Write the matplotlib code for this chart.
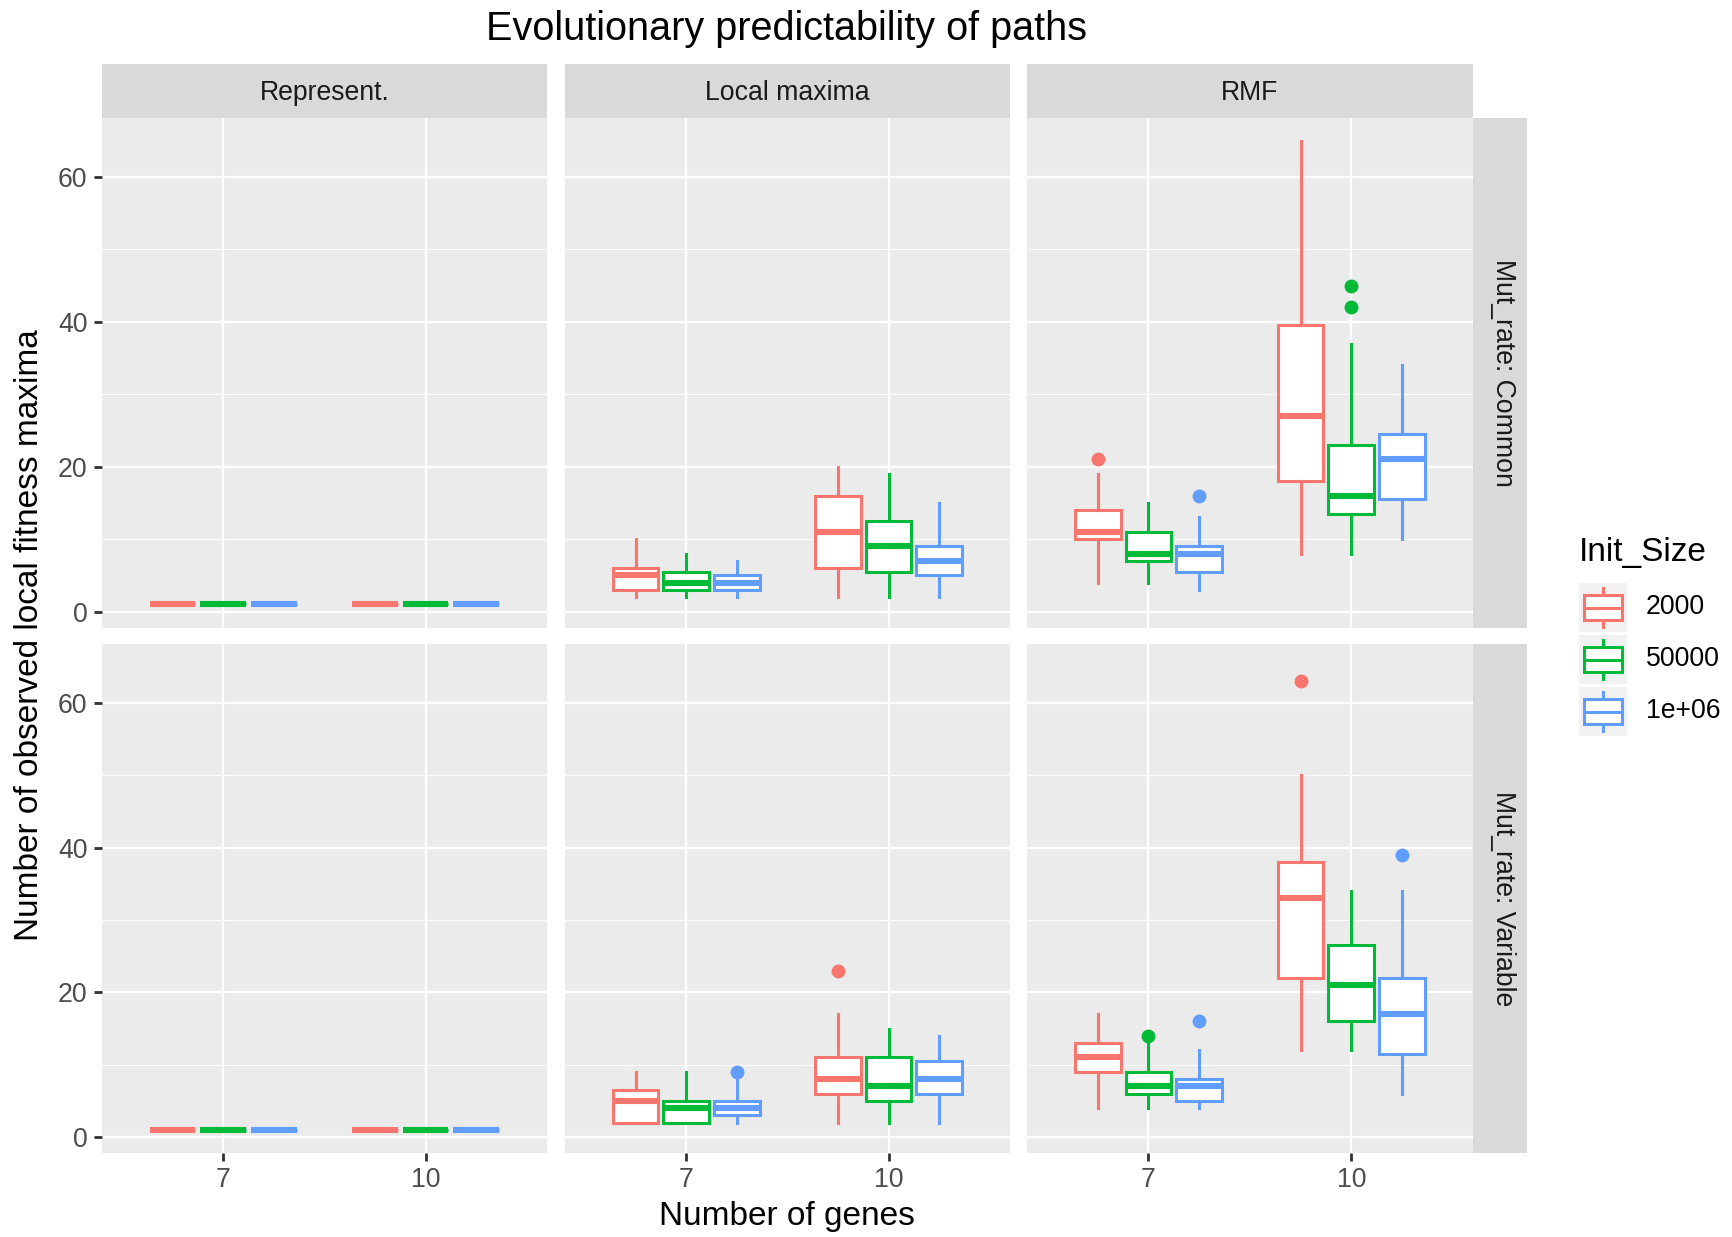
import matplotlib.pyplot as plt

plt.rcParams['font.family'] = ['Liberation Sans', 'DejaVu Sans']

# ---- data ----
genes = ["7", "10"]
sizes = ["2000", "50000", "1e+06"]
colors = ["#F8766D", "#00BA38", "#619CFF"]
facet_cols = ["Represent.", "Local maxima", "RMF"]
facet_rows = ["Mut_rate: Common", "Mut_rate: Variable"]

# five numbers per Init_Size: lower whisker, Q1, median, Q3, upper whisker
repr_common_7 = [[1, 1, 1, 1, 1], [1, 1, 1, 1, 1], [1, 1, 1, 1, 1]]
repr_common_10 = [[1, 1, 1, 1, 1], [1, 1, 1, 1, 1], [1, 1, 1, 1, 1]]
local_common_7 = [[2, 3, 5, 6, 10], [2, 3, 4, 5.5, 8], [2, 3, 4, 5, 7]]
local_common_10 = [[2, 6, 11, 16, 20], [2, 5.5, 9, 12.5, 19], [2, 5, 7, 9, 15]]
rmf_common_7 = [[4, 10, 11, 14, 19], [4, 7, 8, 11, 15], [3, 5.5, 8, 9, 13]]
rmf_common_10 = [[8, 18, 27, 39.5, 65], [8, 13.5, 16, 23, 37], [10, 15.5, 21, 24.5, 34]]

repr_variable_7 = [[1, 1, 1, 1, 1], [1, 1, 1, 1, 1], [1, 1, 1, 1, 1]]
repr_variable_10 = [[1, 1, 1, 1, 1], [1, 1, 1, 1, 1], [1, 1, 1, 1, 1]]
local_variable_7 = [[2, 2, 5, 6.5, 9], [2, 2, 4, 5, 9], [2, 3, 4, 5, 8]]
local_variable_10 = [[2, 6, 8, 11, 17], [2, 5, 7, 11, 15], [2, 6, 8, 10.5, 14]]
rmf_variable_7 = [[4, 9, 11, 13, 17], [4, 6, 7, 9, 13], [4, 5, 7, 8, 12]]
rmf_variable_10 = [[12, 22, 33, 38, 50], [12, 16, 21, 26.5, 34], [6, 11.5, 17, 22, 34]]

# outliers per Init_Size
no_out = [[], [], []]
local_variable_7_out = [[], [], [9]]
local_variable_10_out = [[23], [], []]
rmf_common_7_out = [[21], [], [16]]
rmf_common_10_out = [[], [45, 42], []]
rmf_variable_7_out = [[], [14], [16]]
rmf_variable_10_out = [[63], [], [39]]

summaries = [
    [(repr_common_7, repr_common_10), (local_common_7, local_common_10), (rmf_common_7, rmf_common_10)],
    [(repr_variable_7, repr_variable_10), (local_variable_7, local_variable_10), (rmf_variable_7, rmf_variable_10)],
]
outliers = [
    [(no_out, no_out), (no_out, no_out), (rmf_common_7_out, rmf_common_10_out)],
    [(no_out, no_out), (local_variable_7_out, local_variable_10_out), (rmf_variable_7_out, rmf_variable_10_out)],
]

# ---- layout in pixels ----
W, H = 1733, 1237
fig = plt.figure(figsize=(W / 100, H / 100), dpi=100)


def rect(x0, y0, x1, y1):
    return [x0 / W, 1 - y1 / H, (x1 - x0) / W, (y1 - y0) / H]


col_x = [(101.7, 547), (564.7, 1010), (1026.7, 1473)]
row_y = [(117.5, 627.5), (643.5, 1153)]
strip_top = (64, 117.5)
strip_right = (1473, 1527)

dodge = [-0.25, 0, 0.25]
box_w = 0.225
lw = 2.2
small = 19.2   # tick / strip / legend text
big = 24       # axis titles

for r in range(2):
    for c in range(3):
        ax = fig.add_axes(rect(col_x[c][0], row_y[r][0], col_x[c][1], row_y[r][1]))
        ax.set_facecolor('#EBEBEB')
        for s in ax.spines.values():
            s.set_visible(False)
        ax.set_xlim(0.4, 2.6)
        ax.set_ylim(-2.2, 68.2)
        ax.set_yticks([0, 20, 40, 60])
        ax.set_yticks([10, 30, 50], minor=True)
        ax.set_xticks([1, 2])
        ax.grid(True, which='major', color='white', linewidth=1.7)
        ax.grid(True, which='minor', axis='y', color='white', linewidth=0.85)
        ax.set_axisbelow(True)
        ax.tick_params(axis='both', which='major', length=5.8, width=2, color='#333333',
                       labelsize=small, labelcolor='#4D4D4D')
        ax.tick_params(axis='y', pad=4.5)
        ax.tick_params(axis='x', pad=4)
        ax.tick_params(axis='y', which='minor', length=0)
        if c == 0:
            ax.set_yticklabels(['0', '20', '40', '60'])
        else:
            ax.tick_params(axis='y', which='major', length=0, labelleft=False)
        if r == 1:
            ax.set_xticklabels(genes)
        else:
            ax.tick_params(axis='x', length=0, labelbottom=False)

        for g in range(2):
            five = summaries[r][c][g]
            outs = outliers[r][c][g]
            for k in range(3):
                lo, q1, med, q3, hi = five[k]
                st = [dict(whislo=lo, q1=q1, med=med, q3=q3, whishi=hi, fliers=outs[k])]
                col = colors[k]
                ax.bxp(st, positions=[g + 1 + dodge[k]], widths=box_w, showcaps=False,
                       patch_artist=True, manage_ticks=False,
                       boxprops=dict(facecolor='white', edgecolor=col, linewidth=lw),
                       whiskerprops=dict(color=col, linewidth=lw),
                       medianprops=dict(color=col, linewidth=lw * 2, solid_capstyle='butt'),
                       flierprops=dict(marker='o', markerfacecolor=col, markeredgecolor='none',
                                       markersize=10))

# strips on top
for c in range(3):
    sax = fig.add_axes(rect(col_x[c][0], strip_top[0], col_x[c][1], strip_top[1]))
    sax.set_facecolor('#D9D9D9')
    sax.set_xticks([])
    sax.set_yticks([])
    for s in sax.spines.values():
        s.set_visible(False)
    sax.text(0.5, 0.45, facet_cols[c], ha='center', va='center', fontsize=small,
             color='#1A1A1A', transform=sax.transAxes)

# strips on the right
for r in range(2):
    sax = fig.add_axes(rect(strip_right[0], row_y[r][0], strip_right[1], row_y[r][1]))
    sax.set_facecolor('#D9D9D9')
    sax.set_xticks([])
    sax.set_yticks([])
    for s in sax.spines.values():
        s.set_visible(False)
    sax.text(0.55, 0.5, facet_rows[r], ha='center', va='center', fontsize=small,
             color='#1A1A1A', rotation=-90, transform=sax.transAxes)

# titles
fig.text(787 / W, 1 - 28.5 / H, "Evolutionary predictability of paths", ha='center',
         va='center', fontsize=28.5, color='black')
fig.text(787 / W, 1 - 1217 / H, "Number of genes", ha='center', va='center',
         fontsize=big, color='black')
fig.text(30 / W, 1 - 635 / H, "Number of observed local fitness maxima", ha='center',
         va='center', rotation=90, fontsize=big, color='black')

# legend
fig.text(1579 / W, 1 - 561 / H, "Init_Size", ha='left', va='baseline', fontsize=big,
         color='black')
key_y = [(583, 632), (635, 684), (687, 736)]
for k in range(3):
    kax = fig.add_axes(rect(1579, key_y[k][0], 1627, key_y[k][1]))
    kax.set_facecolor('#F2F2F2')
    for s in kax.spines.values():
        s.set_visible(False)
    kax.set_xticks([])
    kax.set_yticks([])
    kax.set_xlim(0, 1)
    kax.set_ylim(0, 1)
    col = colors[k]
    kax.bxp([dict(whislo=0.1, q1=0.25, med=0.5, q3=0.75, whishi=0.9, fliers=[])],
            positions=[0.5], widths=0.8, showcaps=False, patch_artist=True, manage_ticks=False,
            boxprops=dict(facecolor='white', edgecolor=col, linewidth=lw),
            whiskerprops=dict(color=col, linewidth=lw),
            medianprops=dict(color=col, linewidth=lw))
    fig.text(1646 / W, 1 - (key_y[k][0] + key_y[k][1]) / 2 / H, sizes[k], ha='left',
             va='center', fontsize=small, color='black')

fig.savefig('out.png', dpi=100)
